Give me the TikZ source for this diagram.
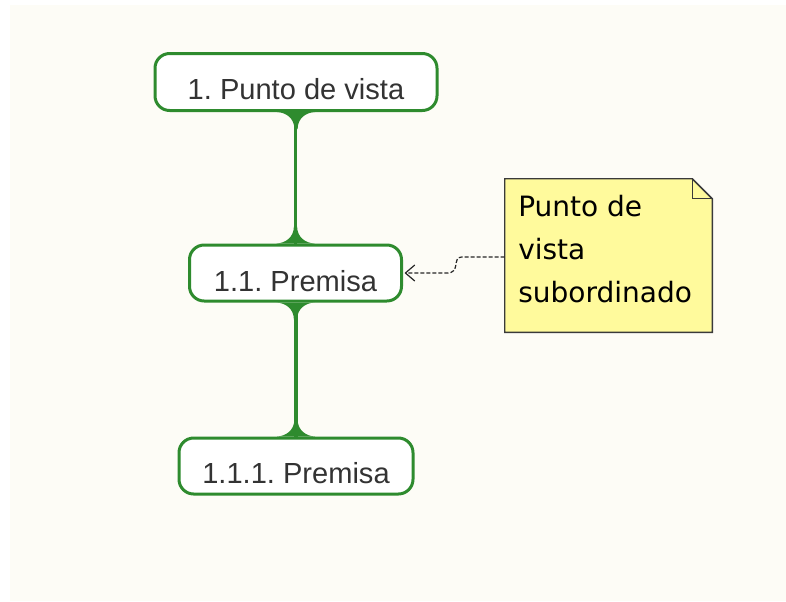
\documentclass[tikz,border=0pt]{standalone}
\usepackage{fontspec}
\setmainfont{Liberation Sans}
\newfontfamily\notefont{DejaVu Sans}
\frenchspacing
\usetikzlibrary{calc,arrows.meta}
\definecolor{cream}{HTML}{FDFCF6}
\definecolor{mgreen}{HTML}{2E8B2E}
\definecolor{txt}{HTML}{333333}
\definecolor{noteyellow}{HTML}{FFFA9C}
\definecolor{notedraw}{HTML}{3A3A3A}
\tikzset{
  topicbox/.style={draw=mgreen, line width=2.25pt, fill=white, rounded corners=11pt, inner sep=0pt},
  topictext/.style={text=txt, font=\fontsize{21.8}{25}\selectfont, anchor=base, inner sep=0pt},
  notetxt/.style={text=black, font=\notefont\fontsize{21}{32.25}\selectfont, anchor=base west, align=left, inner sep=0pt},
  flare/.style={fill=mgreen, draw=none},
}
\begin{document}
\begin{tikzpicture}[x=0.75pt,y=-0.75pt]
\useasboundingbox (0,0) rectangle (786,601);
\fill[cream] (10,5) rectangle (786,601);

% topic boxes
\node[topicbox, minimum width=282*0.75pt, minimum height=57*0.75pt] (n1) at (296,82) {};
\node[topicbox, minimum width=212*0.75pt, minimum height=56*0.75pt] (n2) at (295.5,273) {};
\node[topicbox, minimum width=234*0.75pt, minimum height=56*0.75pt] (n3) at (296,466) {};

\node[topictext] (t1) at ($(n1.center)+(0,17)$) {1. Punto de vista};
\node[topictext] (t2) at ($(n2.center)+(0,18)$) {1.1. Premisa};
\node[topictext] (t3) at ($(n3.center)+(0,17)$) {1.1.1. Premisa};

% connectors with flared ends
\foreach \a/\b in {n1/n2, n2/n3}{
  \fill[flare] ($(\a.south)+(-1.6,0)$) rectangle ($(\b.north)+(1.6,0)$);
  \fill[flare] ($(\a.south)+(-19,0)$) .. controls ($(\a.south)+(-10,0.5)$) and ($(\a.south)+(-1.8,6)$) .. ($(\a.south)+(-1.6,17)$)
     -- ($(\a.south)+(1.6,17)$) .. controls ($(\a.south)+(1.8,6)$) and ($(\a.south)+(10,0.5)$) .. ($(\a.south)+(19,0)$) -- cycle;
  \fill[flare] ($(\b.north)+(-19,0)$) .. controls ($(\b.north)+(-10,-0.5)$) and ($(\b.north)+(-1.8,-6)$) .. ($(\b.north)+(-1.6,-17)$)
     -- ($(\b.north)+(1.6,-17)$) .. controls ($(\b.north)+(1.8,-6)$) and ($(\b.north)+(10,-0.5)$) .. ($(\b.north)+(19,0)$) -- cycle;
}

% note
\node[minimum width=207*0.75pt, minimum height=153*0.75pt, inner sep=0pt] (note) at (608.5,255.5) {};
\draw[fill=noteyellow, draw=notedraw, line width=1.1pt, line join=miter]
  (note.north west) -- ($(note.north east)+(-20,0)$) -- ($(note.north east)+(0,20)$)
  -- (note.south east) -- (note.south west) -- cycle;
\draw[draw=notedraw, line width=1.1pt]
  ($(note.north east)+(-20,0)$) -- ($(note.north east)+(-20,20)$) -- ($(note.north east)+(0,20)$);
\node[notetxt] (nt) at (518,302) {Punto de\\vista\\subordinado};

% dashed arrow from note to premisa
\coordinate (a1) at ($(note.west)+(0,1.5)$);
\coordinate (a2) at (n2.east);
\draw[black!85, line width=0.9pt, dash pattern=on 3pt off 1.5pt, -{Straight Barb[length=7pt,width=12pt,line width=0.9pt]}]
  (a1) -- ++(-43,0) .. controls ++(-10,0) and ($(a2)+(58,0)$) .. ($(a2)+(44,0)$) -- ($(a2)+(1.5,0)$);
\end{tikzpicture}
\end{document}
